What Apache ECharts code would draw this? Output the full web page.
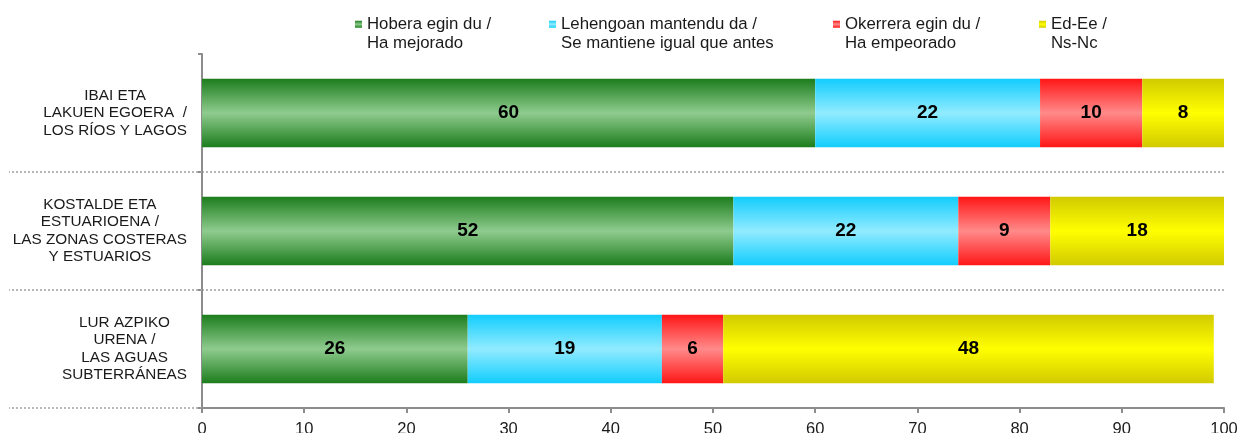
<!DOCTYPE html>
<html>
<head>
<meta charset="utf-8">
<script src="https://cdn.jsdelivr.net/npm/echarts@6/dist/echarts.min.js"></script>
<style>
html,body{margin:0;padding:0;background:#fff;}
#chart{width:1242px;height:433px;}
</style>
</head>
<body>
<div id="chart"></div>
<script>
// ---- data ----
var categories = [
  'IBAI ETA\nLAKUEN EGOERA  /\nLOS RÍOS Y LAGOS',
  'KOSTALDE ETA\nESTUARIOENA /\nLAS ZONAS COSTERAS\nY ESTUARIOS',
  'LUR AZPIKO\nURENA /\nLAS AGUAS\nSUBTERRÁNEAS'
];
var seriesNames = [
  'Hobera egin du /\nHa mejorado',
  'Lehengoan mantendu da /\nSe mantiene igual que antes',
  'Okerrera egin du /\nHa empeorado',
  'Ed-Ee /\nNs-Nc'
];
var hobera = [60, 52, 26];
var lehengoan = [22, 22, 19];
var okerrera = [10, 9, 6];
var edee = [8, 18, 48];
var xTicks = [0, 100, 10]; // min, max, interval

// ---- styles ----
var FONT = '"Liberation Sans", Arial, sans-serif';
function grad(edge, mid) {
  return new echarts.graphic.LinearGradient(0, 0, 0, 1, [
    {offset: 0, color: edge},
    {offset: 0.5, color: mid},
    {offset: 1, color: edge}
  ]);
}
var colors = [
  grad('#1c7d1c', '#8fcb8f'),
  grad('#12cdfd', '#92ebff'),
  grad('#ff1616', '#ff8a8a'),
  grad('#d2ca00', '#ffff00')
];
var values = [hobera, lehengoan, okerrera, edee];
var legendLefts = [355, 549, 833, 1039];

var series = seriesNames.map(function (name, i) {
  return {
    name: name,
    type: 'bar',
    stack: 'total',
    barCategoryGap: '42%',
    data: values[i],
    itemStyle: {color: colors[i]},
    label: {
      show: true,
      position: 'inside',
      color: '#000',
      fontFamily: FONT,
      fontWeight: 'bold',
      fontSize: 19
    },
    emphasis: {disabled: true}
  };
});

var legends = seriesNames.map(function (name, i) {
  return {
    data: [name],
    left: legendLefts[i],
    top: -5,
    padding: 0,
    itemWidth: 7,
    itemHeight: 7,
    icon: 'rect',
    selectedMode: false,
    formatter: function (n) { return ' \n' + n; },
    textStyle: {
      fontFamily: FONT,
      fontSize: 16.8,
      lineHeight: 19.5,
      color: '#1a1a1a'
    }
  };
});

var chart = echarts.init(document.getElementById('chart'), null, {renderer: 'canvas'});
chart.setOption({
  animation: false,
  backgroundColor: '#fff',
  legend: legends,
  grid: {left: 202, right: 18, top: 54, bottom: 25, containLabel: false, outerBoundsMode: 'none'},
  xAxis: {
    type: 'value',
    min: xTicks[0],
    max: xTicks[1],
    interval: xTicks[2],
    axisLine: {show: true, lineStyle: {color: '#8c8c8c', width: 2}},
    axisTick: {show: true, length: 5, lineStyle: {color: '#8c8c8c', width: 2}},
    splitLine: {show: false},
    axisLabel: {fontFamily: FONT, fontSize: 16.5, color: '#1a1a1a', margin: 13}
  },
  yAxis: [{
    type: 'category',
    inverse: true,
    data: categories,
    axisLine: {show: true, lineStyle: {color: '#8c8c8c', width: 2}},
    axisTick: {show: true, length: 4, lineStyle: {color: '#8c8c8c', width: 2}},
    splitLine: {
      show: true,
      interval: function (idx) { return idx !== 0; },
      lineStyle: {color: '#a0a0a0', width: 1.5, type: [2, 2]}
    },
    axisLabel: {
      margin: 15,
      align: 'right',
      fontFamily: FONT,
      formatter: function (v) {
        return v.split('\n').map(function (l) { return '{c|' + l + '}'; }).join('\n');
      },
      rich: {
        c: {align: 'center', fontFamily: FONT, fontSize: 15.3, lineHeight: 17.5, color: '#1a1a1a'}
      }
    }
  }, {
    type: 'category',
    inverse: true,
    position: 'left',
    data: categories,
    axisLine: {show: false},
    axisLabel: {show: false},
    splitLine: {show: false},
    axisTick: {
      show: true,
      length: 193,
      interval: function (idx) { return idx !== 0; },
      lineStyle: {color: '#a0a0a0', width: 1.5, type: [2, 2]}
    }
  }],
  series: series
});
</script>
</body>
</html>
